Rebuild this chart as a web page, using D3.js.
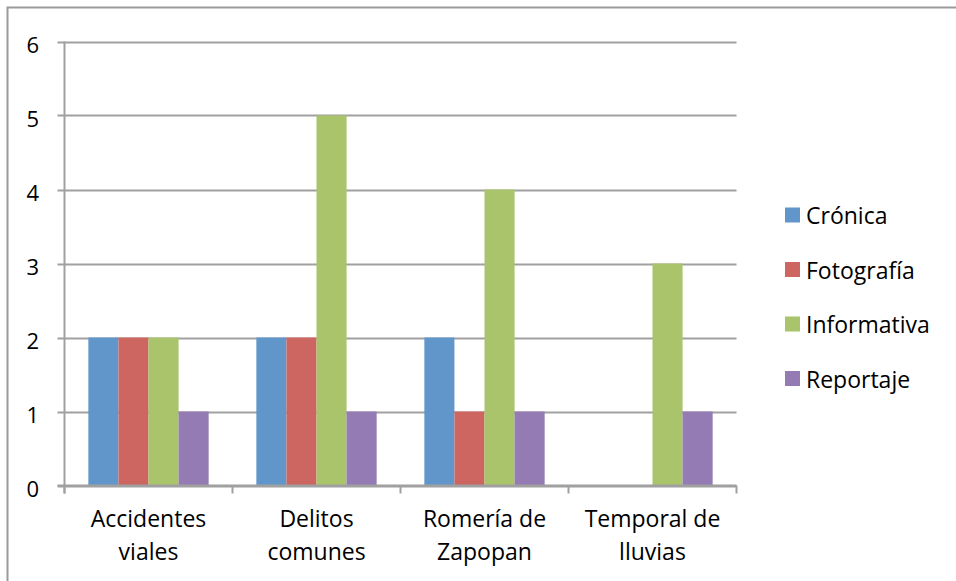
<!DOCTYPE html>
<html><head><meta charset="utf-8">
<script src="https://cdn.jsdelivr.net/npm/d3@7"></script>
<style>body{margin:0;background:#fff;}svg{display:block;}</style>
</head><body>
<svg id="c" width="956" height="581"></svg>
<script>
const categories = [["Accidentes","viales"],["Delitos","comunes"],["Romería de","Zapopan"],["Temporal de","lluvias"]];
const seriesNames = ["Crónica","Fotografía","Informativa","Reportaje"];
const seriesColors = ["#6096CA","#CD6560","#A9C46B","#957BB3"];
const cronica = [2,2,2,0];
const fotografia = [2,2,1,0];
const informativa = [2,5,4,3];
const reportaje = [1,1,1,1];
const yTicks = [0,1,2,3,4,5,6];

const values = [cronica, fotografia, informativa, reportaje];
const svg = d3.select("#c");
const font = "'Open Sans', sans-serif";
const L = 64.5, R = 736.5, T = 41.5, B = 485.5;

svg.append("path").attr("d","M7.5,581 V7.5 H956").attr("fill","none").attr("stroke","#9a9a9a").attr("stroke-width",2);

const x0 = d3.scaleBand().domain(d3.range(categories.length)).range([L,R]).paddingInner(0).paddingOuter(0);
const x1 = d3.scaleBand().domain(d3.range(seriesNames.length)).range([0,x0.bandwidth()]).paddingInner(0).paddingOuter(0.793);
const y = d3.scaleLinear().domain([0,6]).range([B,T]);

// gridlines
svg.append("g").selectAll("line").data(yTicks).join("line")
  .attr("x1",L-7).attr("x2",R).attr("y1",d=>Math.round(y(d))+0.5).attr("y2",d=>Math.round(y(d))+0.5)
  .attr("stroke","#a0a0a0").attr("stroke-width",2);

// bars
const g = svg.append("g");
categories.forEach((c,i)=>{
  values.forEach((arr,s)=>{
    if(arr[i]>0){
      g.append("rect").attr("x",x0(i)+x1(s)).attr("width",x1.bandwidth())
        .attr("y",y(arr[i])).attr("height",y(0)-y(arr[i]))
        .attr("fill",seriesColors[s]);
    }
  });
});

// axes lines
svg.append("line").attr("x1",L).attr("x2",L).attr("y1",T).attr("y2",B+8).attr("stroke","#a0a0a0").attr("stroke-width",2);
svg.append("line").attr("x1",L-7).attr("x2",R).attr("y1",B).attr("y2",B).attr("stroke","#a0a0a0").attr("stroke-width",2);
svg.append("g").selectAll("line").data(d3.range(categories.length+1)).join("line")
  .attr("x1",d=>L+d*x0.bandwidth()).attr("x2",d=>L+d*x0.bandwidth()).attr("y1",B).attr("y2",B+8)
  .attr("stroke","#a0a0a0").attr("stroke-width",2);

// y tick labels
svg.append("g").selectAll("text").data(yTicks).join("text")
  .attr("x",39).attr("y",d=>y(d)+11).attr("text-anchor","end")
  .attr("font-family",font).attr("font-size",22).attr("fill","#000").text(d=>d);

// x labels
const xl = svg.append("g");
categories.forEach((c,i)=>{
  c.forEach((line,j)=>{
    xl.append("text").attr("x",x0(i)+x0.bandwidth()/2).attr("y",527+j*33)
      .attr("text-anchor","middle").attr("font-family",font).attr("font-size",23).attr("fill","#000").text(line);
  });
});

// legend
const lg = svg.append("g");
seriesNames.forEach((n,i)=>{
  const cy = 215 + i*54.5;
  lg.append("rect").attr("x",785).attr("y",cy-7.5).attr("width",15).attr("height",15).attr("fill",seriesColors[i]);
  lg.append("text").attr("x",806).attr("y",cy+9).attr("font-family",font).attr("font-size",23).attr("fill","#000").text(n);
});
</script>
</body></html>
